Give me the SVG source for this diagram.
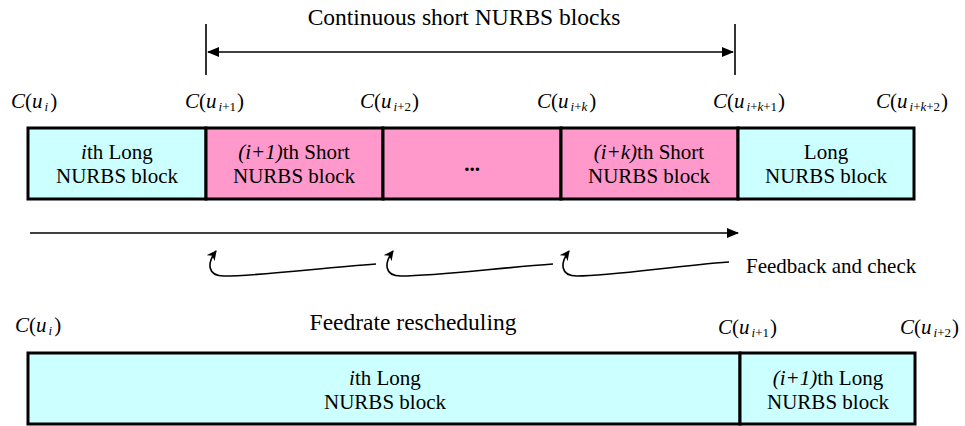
<svg xmlns="http://www.w3.org/2000/svg" width="965" height="426" viewBox="0 0 965 426">
<defs>
<marker id="ah" markerWidth="12" markerHeight="10" refX="11" refY="5" orient="auto" markerUnits="userSpaceOnUse">
<path d="M0,0 L12,5 L0,10 Z" fill="#000"/>
</marker>
<marker id="ahs" markerWidth="12" markerHeight="10" refX="11" refY="5" orient="auto-start-reverse" markerUnits="userSpaceOnUse">
<path d="M0,0 L12,5 L0,10 Z" fill="#000"/>
</marker>
<marker id="fh" markerWidth="10" markerHeight="10" refX="9" refY="5" orient="auto" markerUnits="userSpaceOnUse">
<path d="M0,0 L10,5 L0,10 L3,5 Z" fill="#000"/>
</marker>
</defs>
<rect width="965" height="426" fill="#fff"/>

<text font-family="Liberation Serif" font-size="23.5" x="464" y="25" text-anchor="middle">Continuous short NURBS blocks</text>

<g id="top-row" stroke-width="3">
<g id="n1"><rect fill="#CCFFFF" stroke="#000" stroke-width="3" x="28" y="128" width="178" height="71"/>
<text font-family="Liberation Serif" font-size="21" text-anchor="middle" x="117" y="159"><tspan font-style="italic">i</tspan>th Long</text>
<text font-family="Liberation Serif" font-size="21" text-anchor="middle" x="117" y="183">NURBS block</text></g>
<g id="n2"><rect fill="#FF99CC" stroke="#000" stroke-width="3" x="206" y="128" width="177" height="71"/>
<text font-family="Liberation Serif" font-size="21" text-anchor="middle" x="294" y="159"><tspan font-style="italic">(i+1)</tspan>th Short</text>
<text font-family="Liberation Serif" font-size="21" text-anchor="middle" x="294" y="183">NURBS block</text></g>
<g id="n3"><rect fill="#FF99CC" stroke="#000" stroke-width="3" x="383" y="128" width="178" height="71"/>
<text font-family="Liberation Serif" font-size="21" text-anchor="middle" x="472" y="171" font-weight="bold">...</text></g>
<g id="n4"><rect fill="#FF99CC" stroke="#000" stroke-width="3" x="561" y="128" width="177" height="71"/>
<text font-family="Liberation Serif" font-size="21" text-anchor="middle" x="649" y="159"><tspan font-style="italic">(i+k)</tspan>th Short</text>
<text font-family="Liberation Serif" font-size="21" text-anchor="middle" x="649" y="183">NURBS block</text></g>
<g id="n5"><rect fill="#CCFFFF" stroke="#000" stroke-width="3" x="738" y="128" width="176" height="71"/>
<text font-family="Liberation Serif" font-size="21" text-anchor="middle" x="826" y="159">Long</text>
<text font-family="Liberation Serif" font-size="21" text-anchor="middle" x="826" y="183">NURBS block</text></g>
</g>

<g id="top-labels">
<text font-family="Liberation Serif" font-size="21" x="11" y="108"><tspan font-style="italic">C</tspan>(<tspan font-style="italic">u</tspan><tspan font-size="13" font-style="italic" dx="2" dy="3">i</tspan><tspan dx="2" dy="-3">)</tspan></text>
<text font-family="Liberation Serif" font-size="21" x="185" y="108"><tspan font-style="italic">C</tspan>(<tspan font-style="italic">u</tspan><tspan font-size="13" dx="2" dy="3"><tspan font-style="italic">i</tspan>+1</tspan><tspan dx="1" dy="-3">)</tspan></text>
<text font-family="Liberation Serif" font-size="21" x="360" y="108"><tspan font-style="italic">C</tspan>(<tspan font-style="italic">u</tspan><tspan font-size="13" dx="2" dy="3"><tspan font-style="italic">i</tspan>+2</tspan><tspan dx="1" dy="-3">)</tspan></text>
<text font-family="Liberation Serif" font-size="21" x="537" y="108"><tspan font-style="italic">C</tspan>(<tspan font-style="italic">u</tspan><tspan font-size="13" dx="2" dy="3"><tspan font-style="italic">i</tspan>+<tspan font-style="italic">k</tspan></tspan><tspan dx="2" dy="-3">)</tspan></text>
<text font-family="Liberation Serif" font-size="21" x="713" y="108"><tspan font-style="italic">C</tspan>(<tspan font-style="italic">u</tspan><tspan font-size="13" dx="2" dy="3"><tspan font-style="italic">i</tspan>+<tspan font-style="italic">k</tspan>+1</tspan><tspan dx="1" dy="-3">)</tspan></text>
<text font-family="Liberation Serif" font-size="21" x="876" y="108"><tspan font-style="italic">C</tspan>(<tspan font-style="italic">u</tspan><tspan font-size="13" dx="2" dy="3"><tspan font-style="italic">i</tspan>+<tspan font-style="italic">k</tspan>+2</tspan><tspan dx="1" dy="-3">)</tspan></text>
</g>

<g id="connectors" stroke="#000" stroke-width="1.6" fill="none">
<line x1="206" y1="24" x2="206" y2="75"/>
<line x1="735" y1="24" x2="735" y2="75"/>
<line x1="208" y1="52" x2="733" y2="52" marker-start="url(#ahs)" marker-end="url(#ah)"/>
<line x1="30" y1="233" x2="738" y2="233" marker-end="url(#ah)"/>
<path d="M376,264 C320,268 260,276 224,276 C207,276 207,263 216,251" marker-end="url(#fh)"/>
<path d="M553,264 C497,268 437,276 401,276 C384,276 384,263 393,251" marker-end="url(#fh)"/>
<path d="M729,262 C673,266 613,276 577,276 C560,276 560,263 569,251" marker-end="url(#fh)"/>
</g>

<text font-family="Liberation Serif" font-size="21" x="746" y="273">Feedback and check</text>
<text font-family="Liberation Serif" font-size="23.5" x="413" y="330" text-anchor="middle">Feedrate rescheduling</text>

<g id="bottom-labels">
<text font-family="Liberation Serif" font-size="21" x="15" y="332"><tspan font-style="italic">C</tspan>(<tspan font-style="italic">u</tspan><tspan font-size="13" font-style="italic" dx="2" dy="3">i</tspan><tspan dx="2" dy="-3">)</tspan></text>
<text font-family="Liberation Serif" font-size="21" x="718" y="334"><tspan font-style="italic">C</tspan>(<tspan font-style="italic">u</tspan><tspan font-size="13" dx="2" dy="3"><tspan font-style="italic">i</tspan>+1</tspan><tspan dx="1" dy="-3">)</tspan></text>
<text font-family="Liberation Serif" font-size="21" x="900" y="334"><tspan font-style="italic">C</tspan>(<tspan font-style="italic">u</tspan><tspan font-size="13" dx="2" dy="3"><tspan font-style="italic">i</tspan>+2</tspan><tspan dx="1" dy="-3">)</tspan></text>
</g>

<g id="bottom-row">
<g id="b1"><rect fill="#CCFFFF" stroke="#000" stroke-width="3" x="28" y="353" width="712" height="71"/>
<text font-family="Liberation Serif" font-size="21" text-anchor="middle" x="385" y="385"><tspan font-style="italic">i</tspan>th Long</text>
<text font-family="Liberation Serif" font-size="21" text-anchor="middle" x="385" y="409">NURBS block</text></g>
<g id="b2"><rect fill="#CCFFFF" stroke="#000" stroke-width="3" x="740" y="353" width="175" height="71"/>
<text font-family="Liberation Serif" font-size="21" text-anchor="middle" x="828" y="385"><tspan font-style="italic">(i+1)</tspan>th Long</text>
<text font-family="Liberation Serif" font-size="21" text-anchor="middle" x="828" y="409">NURBS block</text></g>
</g>
</svg>
